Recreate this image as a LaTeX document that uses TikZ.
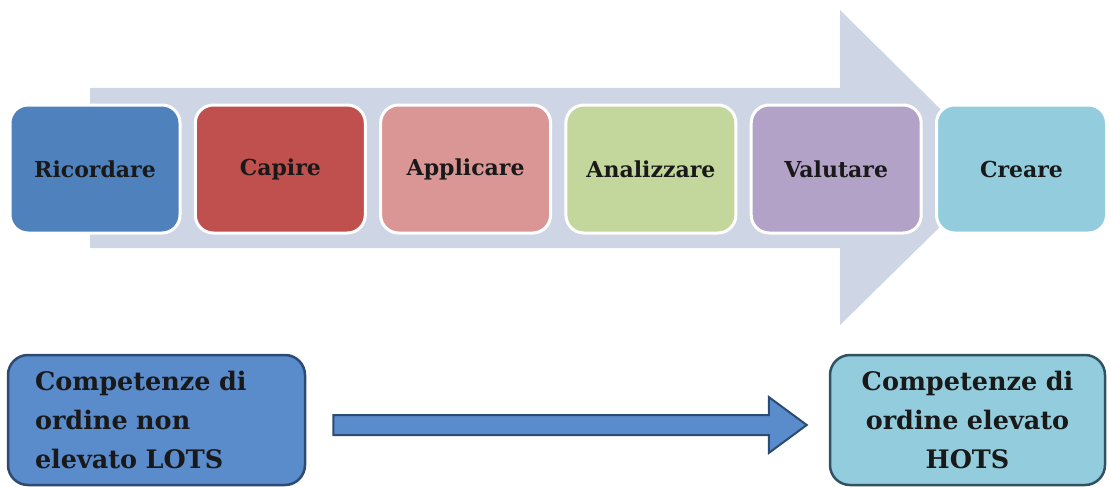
\documentclass[tikz,border=0pt]{standalone}
\usepackage{fontspec}
\setmainfont{DejaVu Serif}
\usetikzlibrary{calc}

\definecolor{ricordare}{HTML}{4F81BD}
\definecolor{capire}{HTML}{C0504D}
\definecolor{applicare}{HTML}{D99694}
\definecolor{analizzare}{HTML}{C3D69B}
\definecolor{valutare}{HTML}{B3A2C7}
\definecolor{creare}{HTML}{93CDDD}
\definecolor{bigarrow}{HTML}{CED6E5}
\definecolor{lotsblue}{HTML}{5A8BCB}
\definecolor{lotsedge}{HTML}{2C4B72}
\definecolor{hotsedge}{HTML}{2F5363}

\tikzset{
	stepbox/.style={draw=white,line width=3pt,rounded corners=18pt,
		minimum width=170pt,minimum height=128pt,
		font=\fontsize{22}{26}\selectfont\bfseries,text=black!90},
	levelbox/.style={line width=2.5pt,rounded corners=20pt,minimum height=130pt,
		font=\fontsize{25.5}{39}\selectfont\bfseries,text=black!90},
	fatarrow/.style={fill=lotsblue,draw=lotsedge,line width=2pt,line join=miter}
}

\begin{document}
\begin{tikzpicture}[x=1pt,y=-1pt]

\useasboundingbox (0,0) rectangle (1109,487);

% Background arrow:
\fill[bigarrow] (90,88) -- (840,88) -- (840,10) -- (1000,168) -- (840,325)
	-- (840,248) -- (90,248) -- cycle;

\def\pitch{185.3}

\foreach \lab/\col [count=\i from 0] in {Ricordare/ricordare,Capire/capire,Applicare/applicare,Analizzare/analizzare,Valutare/valutare,Creare/creare} {
	\node[stepbox,fill=\col] (step\i) at ({95+\pitch*\i},169) {\lab};
}

\node[levelbox,fill=lotsblue,draw=lotsedge,inner xsep=27pt,text width=243pt,align=left] (lots) at (156.5,420) {Competenze di\\ordine non\\elevato LOTS};
\node[levelbox,fill=creare,draw=hotsedge,minimum width=275pt,text width=250pt,align=center] (hots) at (967.5,420) {Competenze di\\ordine elevato\\HOTS};

\coordinate (a0) at ($(lots.east)+(27,5)$);
\coordinate (a1) at ($(hots.west)+(-22,5)$);
\draw[fatarrow] ($(a0)+(0,-10)$) -- ($(a1)+(-38,-10)$) -- ($(a1)+(-38,-28)$) -- (a1)
	-- ($(a1)+(-38,28)$) -- ($(a1)+(-38,10)$) -- ($(a0)+(0,10)$) -- cycle;

\end{tikzpicture}
\end{document}
